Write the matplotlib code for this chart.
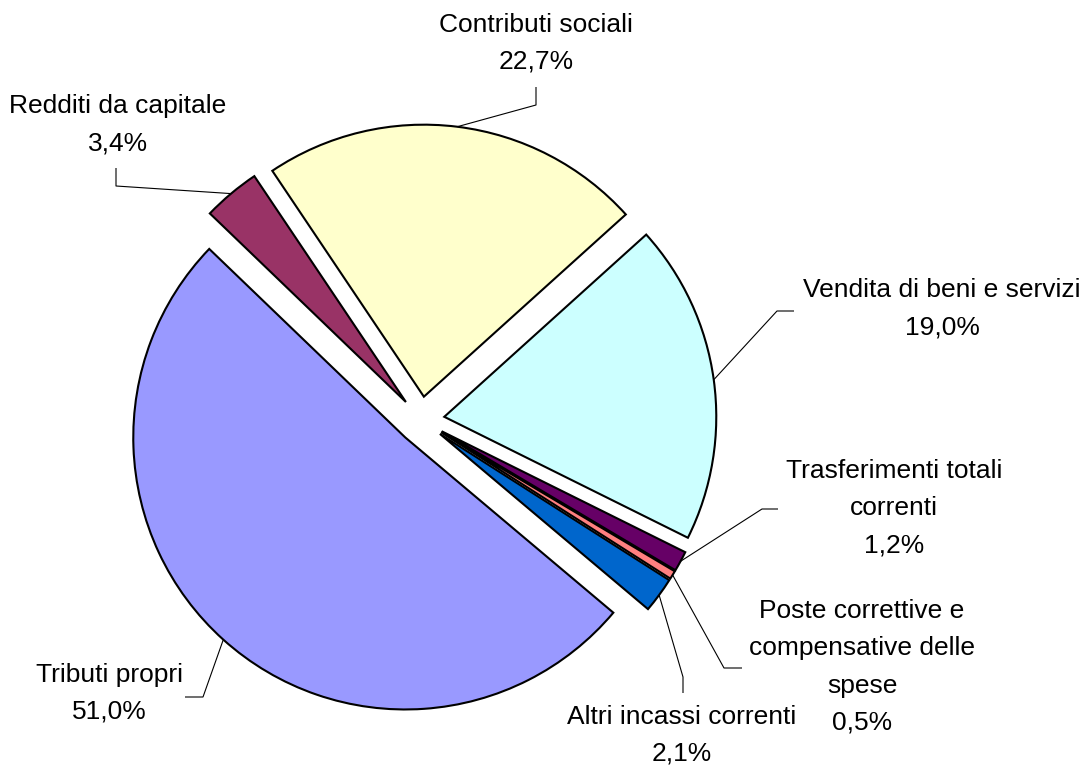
import numpy as np
import matplotlib
matplotlib.use("Agg")
import matplotlib.pyplot as plt

plt.rcParams["font.family"] = ["Liberation Sans", "DejaVu Sans"]

# ── Data (Excel-style pie, clockwise from the lower right) ─────────────────
categories = [
    "Tributi propri",
    "Redditi da capitale",
    "Contributi sociali",
    "Vendita di beni e servizi",
    "Trasferimenti totali\ncorrenti",
    "Poste correttive e\ncompensative delle\nspese",
    "Altri incassi correnti",
]
shares = [51.0, 3.4, 22.7, 19.0, 1.2, 0.5, 2.1]
colors = ["#9999FF", "#993366", "#FFFFCC", "#CCFFFF", "#660066", "#FF8080", "#0066CC"]

# ── Layout (pixel coordinates, y measured from the top) ────────────────────
W, H = 1089, 766
PIE_CX, PIE_CY, PIE_R = 421, 420, 272
EXPLODE = 23.5
START = -40.1
LINE_H = 37

# label block centre, leader elbow, leader end
label_xy = [(109, 693.5), (118, 124.5), (536, 43.5), (942, 308.5),
            (894, 508), (862, 667), (682, 735)]
leader_pts = [
    [(203, 697), (185, 697)],
    [(116, 186), (116, 168)],
    [(536, 105), (536, 87)],
    [(777, 311), (794, 311)],
    [(762, 509), (778, 509)],
    [(724, 668), (742, 668)],
    [(683, 677), (683, 693)],
]


def fy(y):
    return H - y


fig = plt.figure(figsize=(W / 100, H / 100), dpi=100)
ax = fig.add_axes([0, 0, 1, 1])

wedges, _ = ax.pie(
    shares, colors=colors, startangle=START, counterclock=False,
    explode=[EXPLODE] * len(shares), radius=PIE_R, center=(PIE_CX, fy(PIE_CY)),
    wedgeprops=dict(edgecolor="black", linewidth=1.5),
)
ax.set_xlim(0, W)
ax.set_ylim(0, H)
ax.set_aspect("equal")
ax.axis("off")

for w, name, val, (lx, ly), pts in zip(wedges, categories, shares, label_xy, leader_pts):
    # leader starts on the arc at the wedge mid-angle
    mid = np.deg2rad((w.theta1 + w.theta2) / 2)
    sx = w.center[0] + w.r * np.cos(mid)
    sy = w.center[1] + w.r * np.sin(mid)
    xs = [sx] + [p[0] for p in pts]
    ys = [sy] + [fy(p[1]) for p in pts]
    ax.plot(xs, ys, color="black", linewidth=0.8, solid_capstyle="butt")

    lines = name.split("\n") + [f"{val:.1f}%".replace(".", ",")]
    n = len(lines)
    for i, line in enumerate(lines):
        y = ly + (i - (n - 1) / 2) * LINE_H
        ax.text(lx, fy(y), line, ha="center", va="center", fontsize=19, color="black")

fig.savefig("out.png", dpi=100, facecolor="white")
